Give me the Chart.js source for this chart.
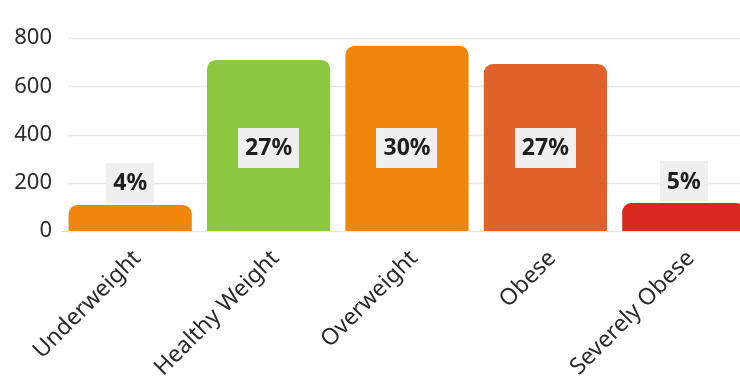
<!DOCTYPE html>
<html><head><meta charset="utf-8">
<script src="https://cdn.jsdelivr.net/npm/chart.js@4"></script>
<style>html,body{margin:0;padding:0;overflow:hidden;background:#fff}#wrap{width:753px;height:383px}</style>
</head><body><div id="wrap"><canvas id="c" width="753" height="383"></canvas></div>
<script>
const categories = ["Underweight", "Healthy Weight", "Overweight", "Obese", "Severely Obese"];
const counts = [108, 709, 767, 692, 116];
const pctLabels = ["4%", "27%", "30%", "27%", "5%"];
const barColors = ["#F0870A", "#8DC63F", "#F0870A", "#E0612A", "#D9291F"];
const yTicks = [0, 200, 400, 600, 800];

const FONT = "'Noto Sans', 'Open Sans', sans-serif";

const gridPlugin = {
  id: 'hgrid',
  beforeDatasetsDraw(chart) {
    const ctx = chart.ctx;
    const ys = chart.scales.y;
    const a = chart.chartArea;
    ctx.save();
    ctx.strokeStyle = '#e6e6e6';
    ctx.lineWidth = 1.5;
    ys.ticks.forEach(t => {
      const y = Math.round(ys.getPixelForValue(t.value)) + 0.5;
      ctx.beginPath();
      ctx.moveTo(a.left + 7, y);
      ctx.lineTo(a.right, y);
      ctx.stroke();
    });
    ctx.restore();
  }
};

const labelPlugin = {
  id: 'pctLabels',
  afterDatasetsDraw(chart) {
    const ctx = chart.ctx;
    const meta = chart.getDatasetMeta(0);
    const ys = chart.scales.y;
    ctx.save();
    ctx.font = "bold 23px " + FONT;
    ctx.textAlign = 'center';
    ctx.textBaseline = 'middle';
    meta.data.forEach((bar, i) => {
      const txt = pctLabels[i];
      const w = ctx.measureText(txt).width + 14;
      const h = 40;
      const barH = bar.base - bar.y;
      let cy;
      if (barH > 80) cy = ys.getPixelForValue(345);
      else cy = bar.y - 2 - h / 2;
      ctx.fillStyle = '#efefef';
      ctx.fillRect(Math.round(bar.x - w / 2), Math.round(cy - h / 2), Math.round(w), h);
      ctx.fillStyle = '#1e1e1e';
      ctx.fillText(txt, bar.x, cy + 1);
    });
    ctx.restore();
  }
};

new Chart(document.getElementById('c'), {
  type: 'bar',
  data: {
    labels: categories,
    datasets: [{
      data: counts,
      backgroundColor: barColors,
      borderRadius: {topLeft: 9, topRight: 9, bottomLeft: 0, bottomRight: 0},
      borderSkipped: 'bottom',
      barPercentage: 0.89,
      categoryPercentage: 1.0
    }]
  },
  options: {
    responsive: false,
    animation: false,
    devicePixelRatio: 1,
    layout: {padding: {left: 10, right: 0, top: 38, bottom: 0}},
    plugins: {legend: {display: false}, tooltip: {enabled: false}},
    scales: {
      x: {
        grid: {display: false, drawTicks: false},
        border: {display: true, color: '#dddddd'},
        ticks: {
          minRotation: 45, maxRotation: 45,
          color: '#2a2a2a',
          font: {family: FONT, size: 23},
          padding: 14,
          labelOffset: 7
        },
        afterFit(s) { s.height = 152; s.paddingLeft = 0; s.paddingRight = 0; }
      },
      y: {
        min: 0, max: 800,
        afterBuildTicks(s) { s.ticks = yTicks.map(v => ({value: v})); },
        grid: {display: false, drawTicks: false},
        border: {display: false},
        ticks: {
          color: '#2a2a2a',
          font: {family: FONT, size: 22},
          padding: 9
        },
        afterFit(s) { s.width = 51; s.paddingTop = 0; s.paddingBottom = 0; }
      }
    }
  },
  plugins: [gridPlugin, labelPlugin]
});
</script>
</body></html>
